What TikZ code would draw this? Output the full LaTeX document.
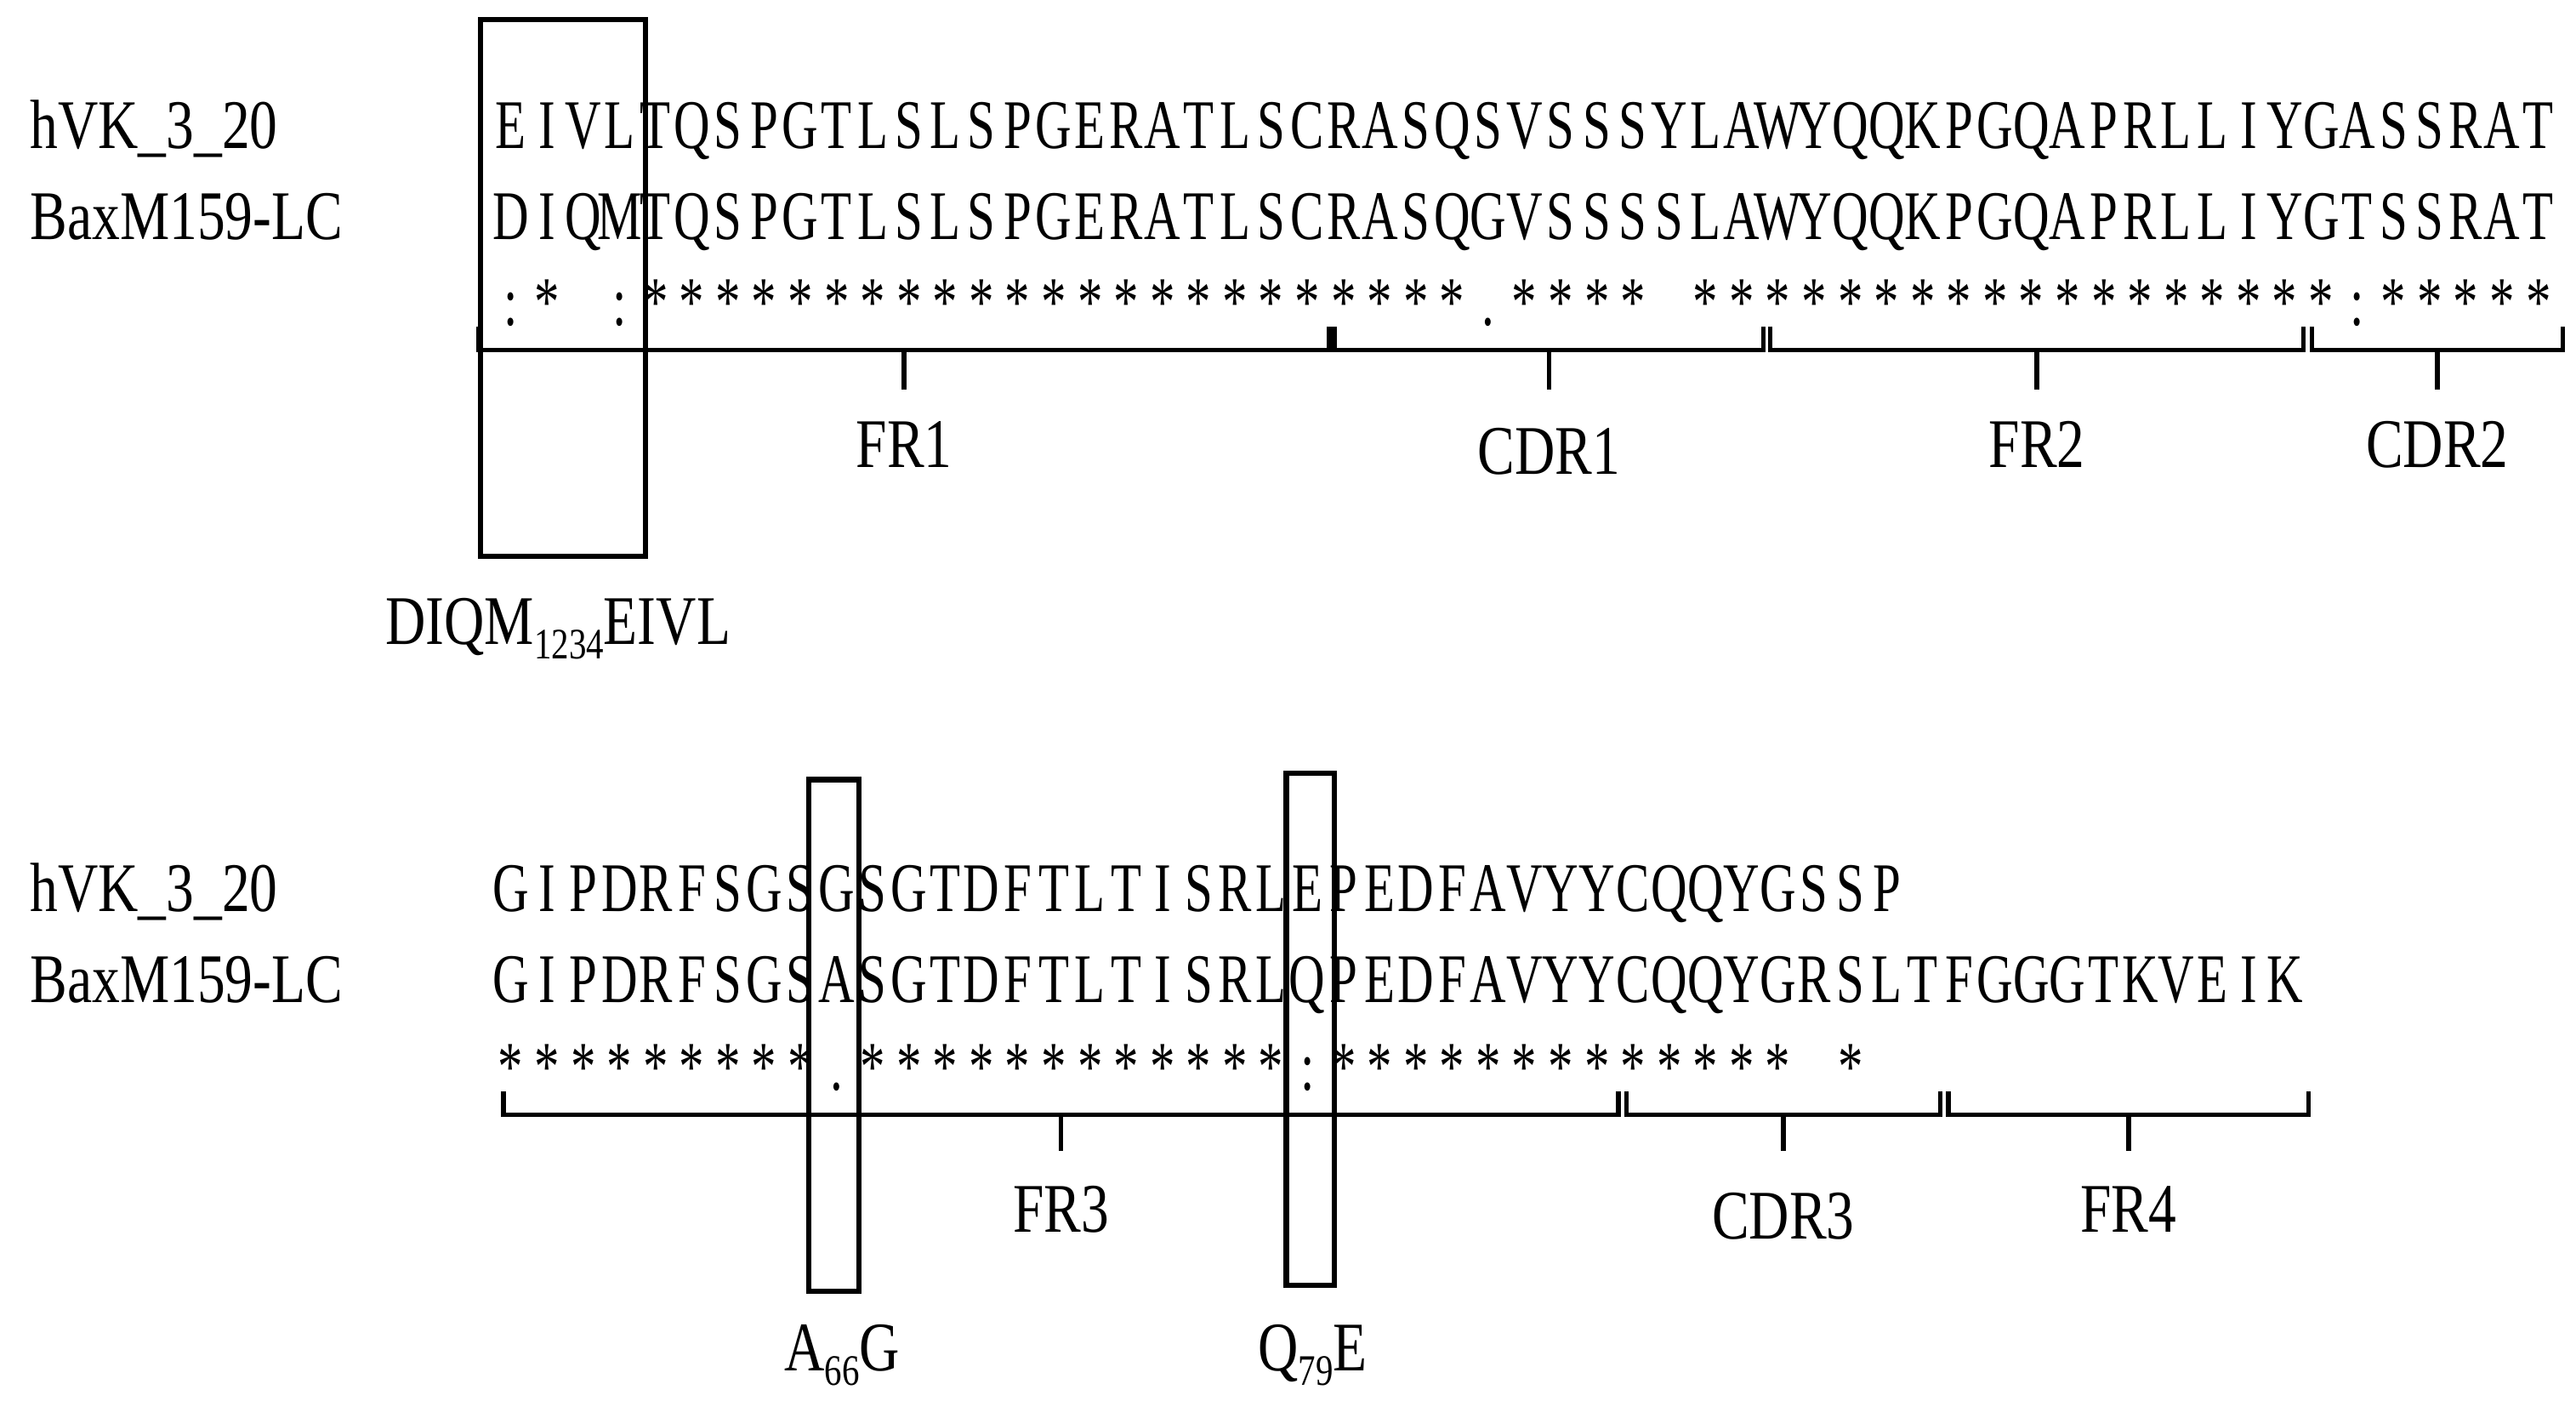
\documentclass[tikz,border=0pt]{standalone}
\usepackage{fontspec}
\setmainfont{Liberation Serif}
\usepackage{graphicx}
\def\mono#1{\monoaux#1\relax}
\def\monoaux#1{\ifx\relax#1\else\makebox[12.48pt]{\scalebox{0.72}[1]{#1}}\expandafter\monoaux\fi}
\newcommand\sq[1]{\scalebox{0.8}[1]{#1}}
\newcommand\sub[1]{\raisebox{-5pt}{\fontsize{15}{16}\selectfont\scalebox{0.8}[1]{#1}}}
\begin{document}
\begin{tikzpicture}[x=0.02cm,y=-0.02cm,
  seq/.style={anchor=base west,inner sep=0,font=\fontsize{24}{28}\selectfont},
  lab/.style={anchor=base,inner sep=0,font=\fontsize{24}{28}\selectfont},
  brc/.style={line width=1.6pt},
  bx/.style={draw,line width=1.8pt}]
\useasboundingbox (0,0) rectangle (1560,848);
% top block
\node[seq] (n1) at (18,90) {\sq{hVK\_3\_20}};
\node[seq] (n2) at (18,145) {\sq{BaxM159-LC}};
\node[seq] (s1) at (298,90) {\mono{EIVLTQSPGTLSLSPGERATLSCRASQSVSSSYLAWYQQKPGQAPRLLIYGASSRAT}};
\node[seq] (s2) at (298,145) {\mono{DIQMTQSPGTLSLSPGERATLSCRASQGVSSSSLAWYQQKPGQAPRLLIYGTSSRAT}};
\node[seq] (a1) at (298,197) {\mono{:*~:***********************.****~******************:*****}};
\foreach \xa/\xb/\nm/\lb/\ly in {290/805/b1/FR1/283,808/1068/b2/CDR1/287,1072/1395/b3/FR2/283,1400/1552/b4/CDR2/283}{
  \draw[brc] (\xa,198) -- (\xa,212) -- (\xb,212) -- (\xb,198);
  \draw[brc] ({(\xa+\xb)/2},212) -- ({(\xa+\xb)/2},236);
  \node[lab] (\nm) at ({(\xa+\xb)/2},\ly) {\sq{\lb}};
}
\node[bx,minimum width=100*0.02cm,minimum height=325*0.02cm,inner sep=0] (r1) at (341,174.5) {};
\node[lab] (l1) at (338,390) {\sq{DIQM}\sub{1234}\sq{EIVL}};
% bottom block
\node[seq] (m1) at (18,552) {\sq{hVK\_3\_20}};
\node[seq] (m2) at (18,607) {\sq{BaxM159-LC}};
\node[seq] (t1) at (298,552) {\mono{GIPDRFSGSGSGTDFTLTISRLEPEDFAVYYCQQYGSSP}};
\node[seq] (t2) at (298,607) {\mono{GIPDRFSGSASGTDFTLTISRLQPEDFAVYYCQQYGRSLTFGGGTKVEIK}};
\node[seq] (a2) at (298,660) {\mono{*********.************:*************~*}};
\foreach \xa/\xb/\nm/\lb/\ly in {305/980/c1/FR3/746,985/1175/c2/CDR3/750,1180/1398/c3/FR4/746}{
  \draw[brc] (\xa,661) -- (\xa,675) -- (\xb,675) -- (\xb,661);
  \draw[brc] ({(\xa+\xb)/2},675) -- ({(\xa+\xb)/2},697);
  \node[lab] (\nm) at ({(\xa+\xb)/2},\ly) {\sq{\lb}};
}
\node[bx,minimum width=30*0.02cm,minimum height=310*0.02cm,inner sep=0] (r2) at (505,627) {};
\node[bx,minimum width=29*0.02cm,minimum height=310*0.02cm,inner sep=0] (r3) at (793.5,623) {};
\node[lab] (l2) at (510,830) {\sq{A}\sub{66}\sq{G}};
\node[lab] (l3) at (795,830) {\sq{Q}\sub{79}\sq{E}};
\end{tikzpicture}
\end{document}
